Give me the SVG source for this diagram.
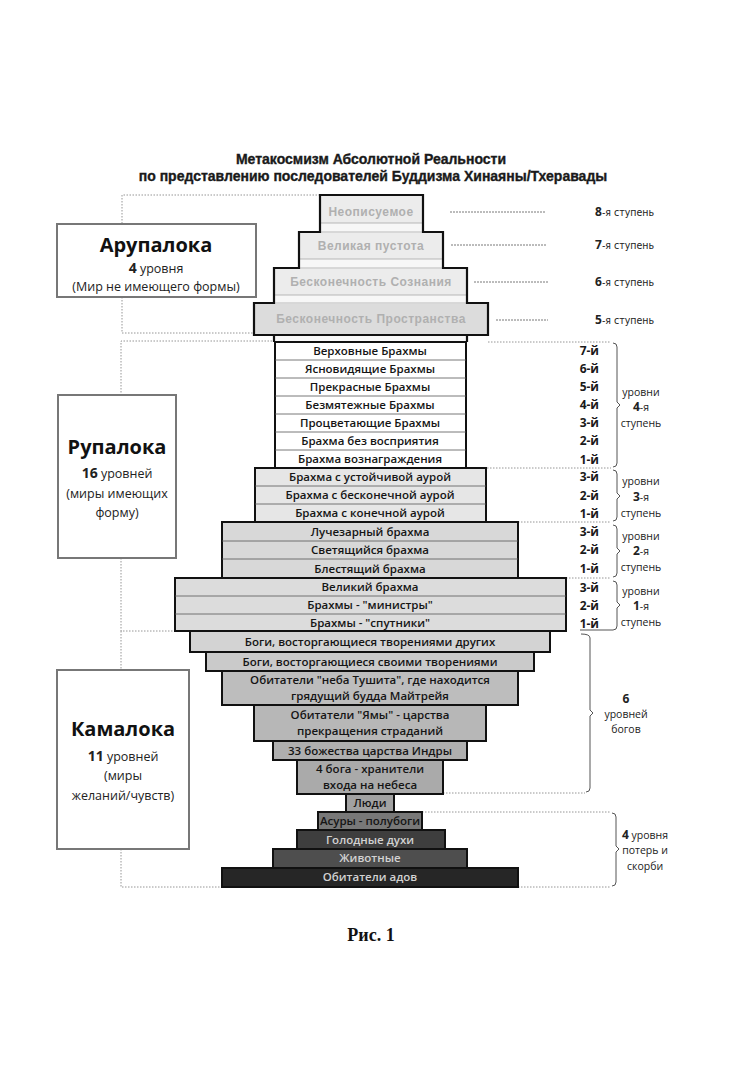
<svg xmlns="http://www.w3.org/2000/svg" width="746" height="1080" viewBox="0 0 746 1080">
<style>
.bg{fill:#fff}
.title{font-family:"Liberation Sans",Arial,sans-serif;font-weight:bold;font-size:14px;fill:#1a1a1a;stroke:#1a1a1a;stroke-width:0.35;text-anchor:middle}
.t{font-family:"Open Sans","Noto Sans",sans-serif;font-size:11.5px;font-weight:600;fill:#151515;text-anchor:middle}
.tl{font-family:"Open Sans","Noto Sans",sans-serif;font-size:11.5px;font-weight:600;fill:#d2d2d2;text-anchor:middle}
.a{font-family:"Liberation Sans",Arial,sans-serif;font-weight:bold;font-size:12px;fill:#b0b0b0;text-anchor:middle;letter-spacing:0.5px}
.box{stroke:#111;stroke-width:2}
.sep{stroke:#555;stroke-width:0.8}
.lsep{stroke:#a8a8a8;stroke-width:0.8}
.dot{stroke:#8a8a8a;stroke-width:0.9;stroke-dasharray:1.5 1.5;fill:none}
.dash{stroke:#555;stroke-width:0.8;stroke-dasharray:2 1;fill:none}
.br{stroke:#555;stroke-width:1;fill:none}
.lb{fill:#fff;stroke:#777;stroke-width:2}
.big{font-family:"Open Sans","Noto Sans",sans-serif;font-weight:bold;font-size:20px;fill:#111;text-anchor:middle}
.sub{font-family:"Open Sans","Noto Sans",sans-serif;font-size:12.5px;fill:#222;text-anchor:middle}
.num{font-family:"Open Sans","Noto Sans",sans-serif;font-weight:bold;font-size:12px;fill:#1a1a1a;text-anchor:end}
.rl{font-family:"Open Sans","Noto Sans",sans-serif;font-size:10.5px;fill:#222;text-anchor:middle}
.rb{font-weight:bold;font-size:12px}
.st{font-family:"DejaVu Sans Condensed","Open Sans",sans-serif;font-size:10.5px;fill:#222}
.stb{font-family:"Open Sans",sans-serif;font-weight:bold;font-size:12px;fill:#222}
.conn{fill:#b0b0b0}
</style>
<rect class="bg" x="0" y="0" width="746" height="1080"/>

<g id="title">
<text class="title" x="371" y="164">Метакосмизм Абсолютной Реальности</text>
<text class="title" x="373" y="181">по представлению последователей Буддизма Хинаяны/Тхеравады</text>
</g>

<g id="connectors">
<path class="dot" d="M320,195 H122 V224 M122,297 V333 H254"/>
<path class="dot" d="M275,341 H121 V395 M121,558 V631 H175"/>
<path class="dot" d="M121,631 V670 M121,849 V887 H222"/>
<path class="dash" d="M450,212 H545 M451,245 H547 M474,282 H548 M496,320 H548"/>
<path class="dot" d="M488,342 H611 M487,468 H611 M518,522 H611 M566,578 H611 M443,793 H585 M422,812 H611 M518,887 H611"/>
<path class="br" d="M613,343 Q617,343 617,347 V402 L620,405 L617,408 V463 Q617,467 613,467"/>
<path class="br" d="M613,470 Q617,470 617,474 V493 L620,496 L617,499 V517 Q617,521 613,521"/>
<path class="br" d="M613,525 Q617,525 617,529 V548 L620,551 L617,554 V573 Q617,577 613,577"/>
<path class="br" d="M613,581 Q617,581 617,585 V602 L620,605 L617,608 V626 Q617,630 613,630 H580"/>
<path class="br" d="M581,634 Q590,634 590,638 V710 L593,713 L590,716 V788 Q590,792 586,792"/>
<path class="br" d="M612,813 Q616,813 616,817 V846 L619,849 L616,852 V882 Q616,886 612,886"/>
<rect class="conn" x="368" y="223" width="4" height="9"/>
<rect class="conn" x="368" y="259" width="4" height="9"/>
<rect class="conn" x="368" y="295" width="4" height="8"/>
<rect class="conn" x="368" y="335" width="4" height="7"/>
</g>

<g id="arupaloka-box">
<rect class="lb" x="57" y="224" width="199" height="73"/>
<text class="big" x="156" y="252">Арупалока</text>
<text class="sub" x="156" y="273"><tspan font-weight="bold" font-size="14">4</tspan> уровня</text>
<text class="sub" x="156" y="291">(Мир не имеющего формы)</text>
</g>

<g id="aru-outline">
<path d="M274,342 V335 H254 V303 H274 V268 H299 V232 H320 V195 H423 V232 H443 V268 H467 V303 H488 V335 H467 V342" fill="#f7f7f7" stroke="none"/>
</g>
<g id="step8">
<rect x="321" y="196" width="101" height="27" fill="#ececec"/>
<line class="lsep" x1="321" y1="223" x2="422" y2="223"/>
<text class="a" x="371" y="216">Неописуемое</text>
</g>
<g id="step7">
<line class="lsep" x1="300" y1="232" x2="442" y2="232"/>
<rect x="300" y="233" width="142" height="26" fill="#ececec"/>
<line class="lsep" x1="300" y1="259" x2="442" y2="259"/>
<text class="a" x="371" y="250">Великая пустота</text>
</g>
<g id="step6">
<line class="lsep" x1="275" y1="268" x2="466" y2="268"/>
<rect x="275" y="269" width="191" height="26" fill="#ececec"/>
<line class="lsep" x1="275" y1="295" x2="466" y2="295"/>
<text class="a" x="371" y="286">Бесконечность Сознания</text>
</g>
<g id="step5">
<rect x="255" y="304" width="232" height="30" fill="#dcdcdc"/>
<line class="lsep" x1="255" y1="303" x2="487" y2="303"/>
<text class="a" x="371" y="323">Бесконечность Пространства</text>
</g>
<path d="M274,342 V335 H254 V303 H274 V268 H299 V232 H320 V195 H423 V232 H443 V268 H467 V303 H488 V335 H467 V342" fill="none" stroke="#111" stroke-width="2.2"/>
<line x1="254" y1="335" x2="488" y2="335" stroke="#111" stroke-width="2"/>

<g id="rupaloka-box">
<rect class="lb" x="58" y="395" width="118" height="163"/>
<text class="big" x="117" y="454">Рупалока</text>
<text class="sub" x="117" y="478"><tspan font-weight="bold" font-size="14">16</tspan> уровней</text>
<text class="sub" x="117" y="498">(миры имеющих</text>
<text class="sub" x="117" y="517">форму)</text>
</g>

<g id="rupa-4">
<rect class="box" x="275" y="342" width="191" height="126" fill="#fff"/>
<path class="sep" d="M275,360 H466 M275,378 H466 M275,396 H466 M275,414 H466 M275,432 H466 M275,450 H466"/>
<text class="t" x="370" y="355">Верховные Брахмы</text>
<text class="t" x="370" y="373">Ясновидящие Брахмы</text>
<text class="t" x="370" y="391">Прекрасные Брахмы</text>
<text class="t" x="370" y="409">Безмятежные Брахмы</text>
<text class="t" x="370" y="427">Процветающие Брахмы</text>
<text class="t" x="370" y="445">Брахма без восприятия</text>
<text class="t" x="370" y="463">Брахма вознаграждения</text>
</g>
<g id="rupa-3">
<rect class="box" x="255" y="468" width="231" height="54" fill="#e6e6e6"/>
<path class="sep" d="M255,486 H486 M255,504 H486"/>
<text class="t" x="370" y="481">Брахма с устойчивой аурой</text>
<text class="t" x="370" y="499">Брахма с бесконечной аурой</text>
<text class="t" x="370" y="517">Брахма с конечной аурой</text>
</g>
<g id="rupa-2">
<rect class="box" x="222" y="522" width="296" height="56" fill="#d8d8d8"/>
<path class="sep" d="M222,541 H518 M222,559 H518"/>
<text class="t" x="370" y="536">Лучезарный брахма</text>
<text class="t" x="370" y="554">Светящийся брахма</text>
<text class="t" x="370" y="573">Блестящий брахма</text>
</g>
<g id="rupa-1">
<rect class="box" x="175" y="578" width="391" height="53" fill="#dcdcdc"/>
<path class="sep" d="M175,596 H566 M175,614 H566"/>
<text class="t" x="370" y="591">Великий брахма</text>
<text class="t" x="370" y="609">Брахмы - "министры"</text>
<text class="t" x="370" y="627">Брахмы - "спутники"</text>
</g>

<g id="kamaloka-box">
<rect class="lb" x="57" y="670" width="132" height="179"/>
<text class="big" x="123" y="736">Камалока</text>
<text class="sub" x="123" y="761"><tspan font-weight="bold" font-size="14">11</tspan> уровней</text>
<text class="sub" x="123" y="780">(миры</text>
<text class="sub" x="123" y="800">желаний/чувств)</text>
</g>

<g id="k-others">
<rect class="box" x="190" y="631" width="360" height="21" fill="#d3d3d3"/>
<text class="t" x="370" y="646">Боги, восторгающиеся творениями других</text>
</g>
<g id="k-own">
<rect class="box" x="206" y="652" width="328" height="19" fill="#cacaca"/>
<text class="t" x="370" y="666">Боги, восторгающиеся своими творениями</text>
</g>
<g id="k-tushita">
<rect class="box" x="222" y="671" width="296" height="34" fill="#bdbdbd"/>
<text class="t" x="370" y="684">Обитатели "неба Тушита", где находится</text>
<text class="t" x="370" y="700">грядущий будда Майтрейя</text>
</g>
<g id="k-yama">
<rect class="box" x="254" y="705" width="232" height="36" fill="#b7b7b7"/>
<text class="t" x="370" y="719">Обитатели "Ямы" - царства</text>
<text class="t" x="370" y="735">прекращения страданий</text>
</g>
<g id="k-indra">
<rect class="box" x="273" y="741" width="194" height="19" fill="#afafaf"/>
<text class="t" x="370" y="755">33 божества царства Индры</text>
</g>
<g id="k-guardians">
<rect class="box" x="297" y="760" width="146" height="34" fill="#aaaaaa"/>
<text class="t" x="370" y="773">4 бога - хранители</text>
<text class="t" x="370" y="789">входа на небеса</text>
</g>
<g id="k-people">
<rect class="box" x="346" y="794" width="48" height="18" fill="#a2a2a2"/>
<text class="t" x="370" y="807">Люди</text>
</g>
<g id="k-asura">
<rect class="box" x="318" y="812" width="104" height="18" fill="#787878"/>
<text class="t" x="370" y="825">Асуры - полубоги</text>
</g>
<g id="k-ghosts">
<rect class="box" x="297" y="830" width="148" height="19" fill="#3e3e3e"/>
<text class="tl" x="370" y="844">Голодные духи</text>
</g>
<g id="k-animals">
<rect class="box" x="273" y="849" width="194" height="19" fill="#4e4e4e"/>
<text class="tl" x="370" y="862">Животные</text>
</g>
<g id="k-hell">
<rect class="box" x="222" y="868" width="296" height="19" fill="#262626"/>
<text class="tl" x="370" y="881" fill="#c4c4c4">Обитатели адов</text>
</g>

<g id="stage-labels">
<text x="595" y="216"><tspan class="stb">8</tspan><tspan class="st">-я ступень</tspan></text>
<text x="595" y="249"><tspan class="stb">7</tspan><tspan class="st">-я ступень</tspan></text>
<text x="595" y="286"><tspan class="stb">6</tspan><tspan class="st">-я ступень</tspan></text>
<text x="595" y="324"><tspan class="stb">5</tspan><tspan class="st">-я ступень</tspan></text>
</g>

<g id="level-numbers">
<text class="num" x="599" y="355">7-й</text>
<text class="num" x="599" y="373">6-й</text>
<text class="num" x="599" y="391">5-й</text>
<text class="num" x="599" y="409">4-й</text>
<text class="num" x="599" y="427">3-й</text>
<text class="num" x="599" y="445">2-й</text>
<text class="num" x="599" y="464">1-й</text>
<text class="num" x="599" y="481">3-й</text>
<text class="num" x="599" y="500">2-й</text>
<text class="num" x="599" y="518">1-й</text>
<text class="num" x="599" y="536">3-й</text>
<text class="num" x="599" y="554">2-й</text>
<text class="num" x="599" y="573">1-й</text>
<text class="num" x="599" y="592">3-й</text>
<text class="num" x="599" y="610">2-й</text>
<text class="num" x="599" y="628">1-й</text>
</g>

<g id="group-4">
<text class="rl" x="641" y="396">уровни</text>
<text class="rl" x="641" y="411"><tspan class="rb">4</tspan>-я</text>
<text class="rl" x="641" y="427">ступень</text>
</g>
<g id="group-3">
<text class="rl" x="641" y="485">уровни</text>
<text class="rl" x="641" y="501"><tspan class="rb">3</tspan>-я</text>
<text class="rl" x="641" y="517">ступень</text>
</g>
<g id="group-2">
<text class="rl" x="641" y="540">уровни</text>
<text class="rl" x="641" y="555"><tspan class="rb">2</tspan>-я</text>
<text class="rl" x="641" y="571">ступень</text>
</g>
<g id="group-1">
<text class="rl" x="641" y="595">уровни</text>
<text class="rl" x="641" y="610"><tspan class="rb">1</tspan>-я</text>
<text class="rl" x="641" y="626">ступень</text>
</g>
<g id="group-gods">
<text class="rl" x="626" y="703"><tspan class="rb">6</tspan></text>
<text class="rl" x="626" y="718">уровней</text>
<text class="rl" x="626" y="733">богов</text>
</g>
<g id="group-losses">
<text class="rl" x="645" y="839"><tspan class="rb">4</tspan> уровня</text>
<text class="rl" x="645" y="854">потерь и</text>
<text class="rl" x="645" y="870">скорби</text>
</g>

<g id="caption">
<text x="371" y="941" font-family="Liberation Serif,serif" font-weight="bold" font-size="18" fill="#111" text-anchor="middle">Рис. 1</text>
</g>
</svg>
